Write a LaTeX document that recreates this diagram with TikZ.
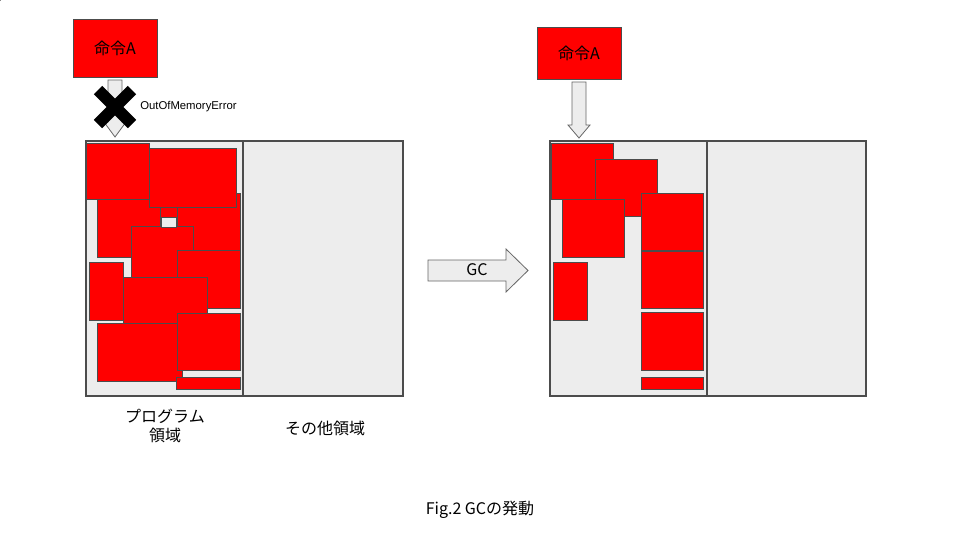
\documentclass[tikz,border=0pt]{standalone}
\usepackage{fontspec}
\setmainfont{Liberation Sans}
\newfontfamily\jp{Noto Sans CJK JP}
\begin{document}
\begin{tikzpicture}[x=0.75pt,y=-0.75pt,
  blk/.style={fill=red,draw=black!70,line width=0.6pt},
  mem/.style={fill=black!7,draw=black!70,line width=0.8pt},
  harrow/.style={fill=black!7,draw=black!60,line width=0.6pt},
  lbl/.style={font=\jp\fontsize{12}{14}\selectfont,align=center}]
\useasboundingbox (0,0) rectangle (960,540);
% left memory
\node[mem,minimum width=0,inner sep=0] (L) at (0,0) {};
\draw[mem] (86,141) rectangle (243,396);
\draw[mem] (243,141) rectangle (403,396);
\foreach \a/\b/\c/\d in {131/158/200/217, 177/193/240/250, 97/199/160/257, 149/148/236/207, 131/226/193/277, 177/250/240/308, 89/262/123/320, 123/277/207/334, 97/323/182/381, 177/313/240/370, 176/377/240/389, 86/143/149/199}
  \draw[blk] (\a,\b) rectangle (\c,\d);
\fill[black!7] (161,217) rectangle (176,227);
\draw[black!70,line width=0.6pt] (161,217) rectangle (176,227);
% right memory
\draw[mem] (550,141) rectangle (707,396);
\draw[mem] (707,141) rectangle (866,396);
\foreach \a/\b/\c/\d in {551/143/613/199, 595/159/657/216, 562/199/624/257, 553/262/587/320, 641/193/703/250, 641/251/703/308, 641/312/703/370, 641/377/703/389}
  \draw[blk] (\a,\b) rectangle (\c,\d);
% command boxes
\node[blk,minimum width=63pt,minimum height=43.5pt,lbl] (cmdL) at (115,48) {命令A};
\node[blk,minimum width=63pt,minimum height=39pt,lbl] (cmdR) at (579,53) {命令A};
% down arrows
\draw[harrow] (108,80) -- (122,80) -- (122,122) -- (126,122) -- (115,137) -- (104,122) -- (108,122) -- cycle;
\draw[harrow] (572,82) -- (586,82) -- (586,125) -- (590,125) -- (579,138) -- (568,125) -- (572,125) -- cycle;
% X mark
\draw[black,line width=9pt] (98,90) -- (132,124) (132,90) -- (98,124);
\node[anchor=west,font=\fontsize{8.5}{10}\selectfont,inner sep=0] (oom) at (140,107) {OutOfMemoryError};
% GC arrow
\draw[harrow] (428,260) -- (506,260) -- (506,249) -- (528,270.5) -- (506,292) -- (506,281) -- (428,281) -- cycle;
\node[lbl] (gc) at (477,270) {GC};
% labels
\node[lbl] (prog) at (165,426) {プログラム\\領域};
\node[lbl] (other) at (325,428) {その他領域};
\node[lbl] (cap) at (480,510) {Fig.2 GCの発動};
\end{tikzpicture}
\end{document}
